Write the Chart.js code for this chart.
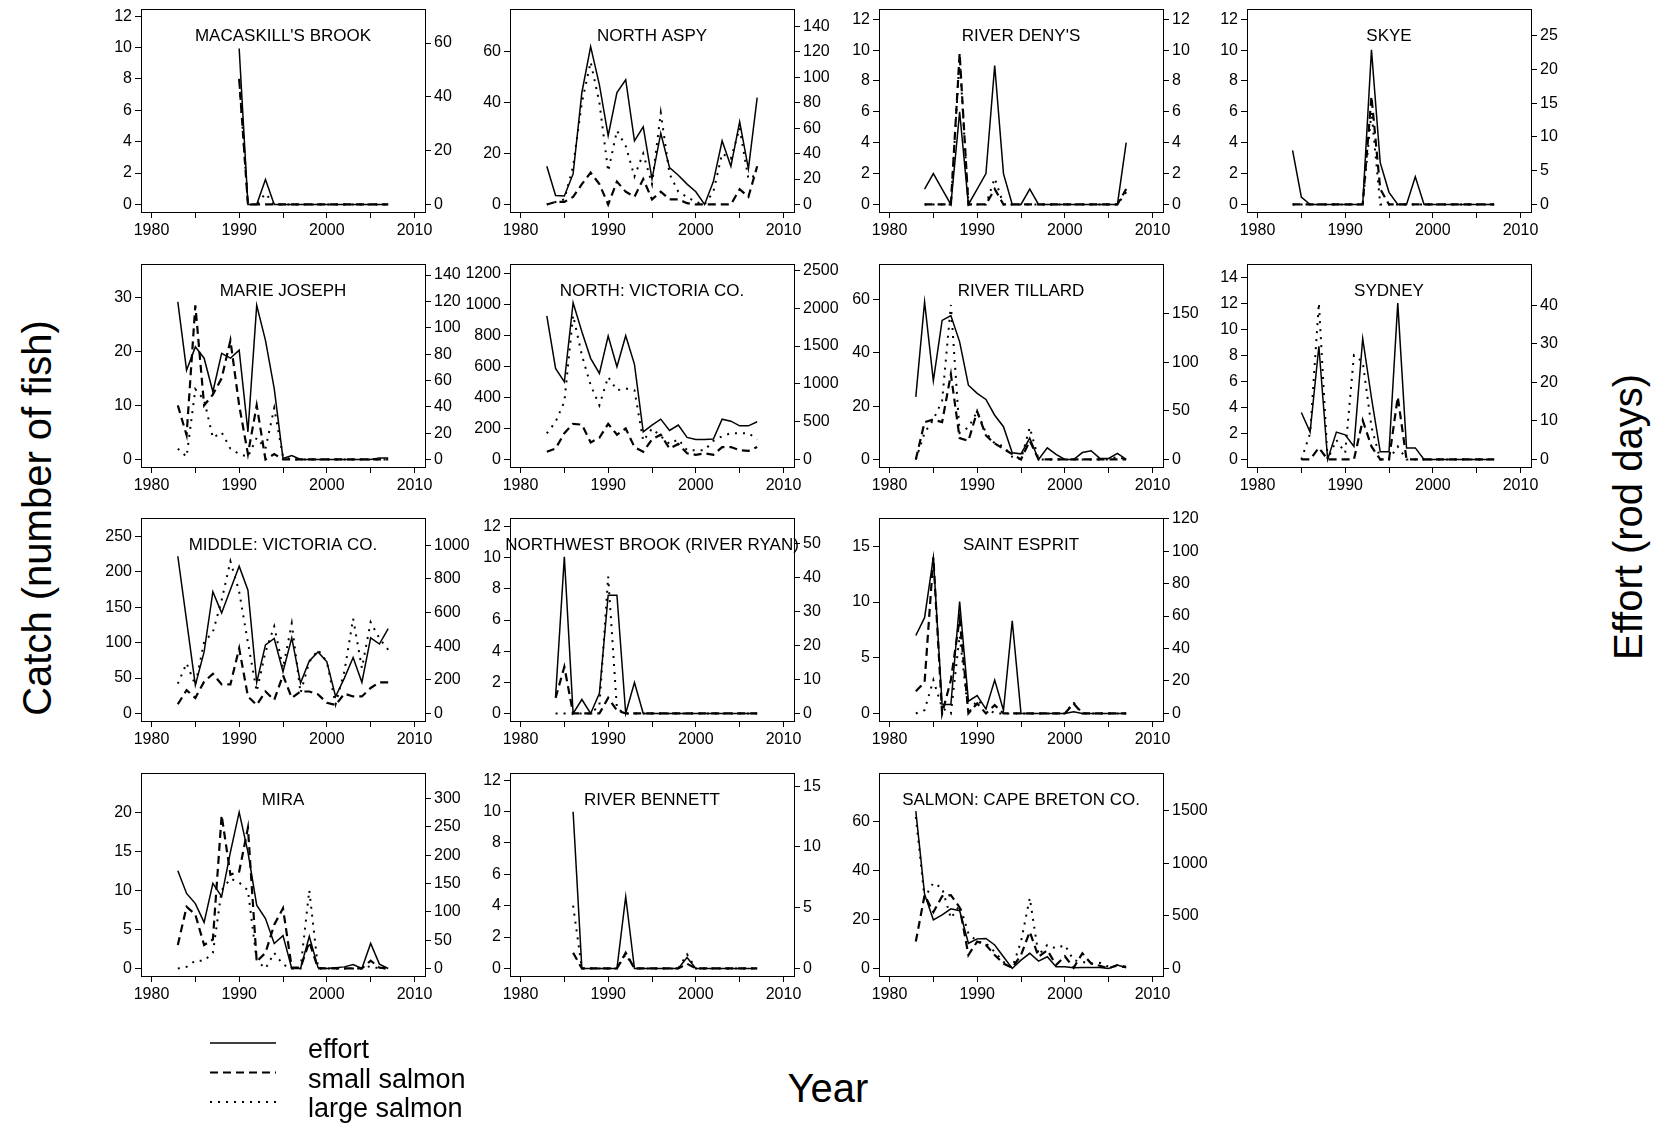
<!DOCTYPE html>
<html>
<head>
<meta charset="utf-8">
<script src="https://cdn.jsdelivr.net/npm/chart.js@4.4.1/dist/chart.umd.min.js"></script>
<style>
  body { margin: 0; background: #fff; }
  #page { position: relative; width: 1663px; height: 1123px; overflow: hidden; font-family: 'Liberation Sans', Arial, sans-serif; }
  .panel { position: absolute; }
  .axisTitle { position: absolute; font-size: 40px; white-space: nowrap; color: #000; transform: translate(-50%, -50%); }
</style>
</head>
<body>
<div id="page">
  <div class="axisTitle" style="left:37px; top:518px; transform: translate(-50%, -50%) rotate(-90deg);">Catch (number of fish)</div>
  <div class="axisTitle" style="left:1628px; top:517px; transform: translate(-50%, -50%) rotate(-90deg);">Effort (rod days)</div>
  <div class="axisTitle" style="left:828px; top:1088px;">Year</div>
  <canvas id="legend" width="320" height="93" style="position:absolute; left:200px; top:1030px;"></canvas>
</div>
<script>
// effort is in rod days (right axis), small / large salmon in number of fish (left axis)
const macaskillEffort = [58, 0, 0, 9.3, 0, 0, 0, 0, 0, 0, 0, 0, 0, 0, 0, 0, 0, 0];
const macaskillSmall  = [8, 0, 0, 0, 0, 0, 0, 0, 0, 0, 0, 0, 0, 0, 0, 0, 0, 0];
const macaskillLarge  = [8, 0, 0, 0.7, 0, 0, 0, 0, 0, 0, 0, 0, 0, 0, 0, 0, 0, 0];

const aspyEffort = [30, 7, 6.6, 24, 88, 124, 94, 54, 88, 98, 50, 61, 20, 56, 29, 23, 16, 10, 0, 18, 50, 30, 65, 28, 84];
const aspySmall  = [0, 1, 1, 3, 8, 12.5, 8, 0, 9, 5, 3, 10, 2, 5, 2, 2, 0.5, 0, 0, 0, 0, 0, 6, 3, 15];
const aspyLarge  = [0, 1, 2, 15, 40, 56, 40, 13, 29, 23, 11, 20, 8, 36, 12, 5, 3, 1, 0, 5, 20, 18, 30, 10, 12];

const denysEffort = [1, 2, 1, 0, 6, 0, 1, 2, 9, 2, 0, 0, 1, 0, 0, 0, 0, 0, 0, 0, 0, 0, 0, 4];
const denysSmall  = [0, 0, 0, 0, 9.8, 0, 0, 0, 1, 0, 0, 0, 0, 0, 0, 0, 0, 0, 0, 0, 0, 0, 0, 1];
const denysLarge  = [0, 0, 0, 0, 9.5, 0, 0, 0, 1.7, 0, 0, 0, 0, 0, 0, 0, 0, 0, 0, 0, 0, 0, 0, 0.8];

const skyeEffort = [8, 1.1, 0, 0, 0, 0, 0, 0, 0, 22.9, 6.2, 1.8, 0, 0, 4.1, 0, 0, 0, 0, 0, 0, 0, 0, 0];
const skyeSmall  = [0, 0, 0, 0, 0, 0, 0, 0, 0, 7, 1, 0, 0, 0, 0, 0, 0, 0, 0, 0, 0, 0, 0, 0];
const skyeLarge  = [0, 0, 0, 0, 0, 0, 0, 0, 0, 6, 0, 0, 0, 0, 0, 0, 0, 0, 0, 0, 0, 0, 0, 0];

const marieEffort = [119.6, 67.8, 85.5, 76.9, 51.4, 80.6, 76.9, 83, 21, 117, 90.4, 53.8, 0.8, 2.9, 0, 0, 0, 0, 0, 0, 0, 0, 0, 1.2, 1.2];
const marieSmall  = [10, 4.5, 28.5, 10, 12, 15, 22, 10, 1, 10, 0, 1, 0, 0, 0, 0, 0, 0, 0, 0, 0, 0, 0, 0, 0];
const marieLarge  = [2, 0.5, 13, 11, 4, 5, 2, 1, 0.5, 4, 2, 9.5, 0.5, 0, 0, 0, 0, 0, 0, 0, 0, 0, 0, 0, 0];

const northVicEffort = [1900, 1203, 1027, 2073, 1689, 1337, 1138, 1632, 1226, 1636, 1257, 365, 455, 533, 383, 455, 291, 264, 264, 269, 533, 506, 445, 445, 498];
const northVicSmall  = [50, 70, 170, 230, 225, 110, 140, 230, 160, 200, 80, 50, 130, 160, 70, 100, 40, 30, 40, 30, 80, 80, 60, 55, 80];
const northVicLarge  = [168, 243, 372, 930, 673, 480, 350, 533, 447, 458, 447, 120, 200, 150, 100, 130, 60, 60, 60, 120, 150, 170, 170, 170, 130];

const tillardEffort = [64.4, 162, 80.8, 143, 148, 121, 76.4, 68, 61.7, 45.5, 33.7, 6.9, 5.8, 22, 0, 12, 5.2, 0, 0, 7.1, 9, 1.1, 1.1, 6.3, 0];
const tillardSmall  = [0, 14, 15, 14, 32, 8, 7, 18, 9, 6, 4, 2, 0, 7, 0, 0, 0, 0, 0, 0, 0, 0, 0, 0, 0];
const tillardLarge  = [0, 10, 15, 22, 58, 10, 12, 18, 10, 6, 5, 1, 0, 12, 0, 0, 0, 0, 0, 0, 0, 0, 0, 1, 0];

const sydneyEffort = [12.2, 7.1, 29.4, 0, 7.1, 6.4, 3.4, 31.4, 16, 2, 2, 40.6, 3, 3, 0, 0, 0, 0, 0, 0, 0, 0, 0];
const sydneySmall  = [0, 0, 0.9, 0, 0, 0, 0, 3, 1, 0, 0, 4.8, 0, 0, 0, 0, 0, 0, 0, 0, 0, 0, 0];
const sydneyLarge  = [0, 2, 12, 0, 1.5, 0.5, 8, 7.5, 2.5, 0, 0, 1, 0, 0, 0, 0, 0, 0, 0, 0, 0, 0, 0];

const middleVicEffort = [935, 552, 168, 366, 724, 598, 737, 876, 733, 185, 408, 446, 248, 450, 181, 312, 366, 307, 101, 210, 333, 185, 450, 413, 505];
const middleVicSmall  = [13, 33, 22, 45, 56, 41, 41, 92, 24, 12, 31, 19, 54, 22, 31, 31, 27, 15, 12, 28, 24, 24, 36, 44, 44];
const middleVicLarge  = [42, 71, 40, 101, 115, 160, 215, 172, 100, 31, 87, 123, 64, 127, 29, 73, 90, 73, 13, 59, 134, 64, 129, 106, 90];

const nwBrookEffort = [5, 46, 0, 4.1, 0, 5.9, 34.7, 34.7, 0, 9.1, 0, 0, 0, 0, 0, 0, 0, 0, 0, 0, 0, 0, 0, 0];
const nwBrookSmall  = [1, 3, 0, 0, 0, 0, 1, 0.2, 0, 0, 0, 0, 0, 0, 0, 0, 0, 0, 0, 0, 0, 0, 0, 0];
const nwBrookLarge  = [0, 0, 0, 0, 0, 0.5, 8.8, 0.3, 0, 0, 0, 0, 0, 0, 0, 0, 0, 0, 0, 0, 0, 0, 0, 0];

const espritEffort = [48, 59, 96, 5.5, 5.5, 69, 7.6, 11, 2.7, 20.6, 2, 57, 0, 0, 0, 0, 0, 0, 1, 0, 0, 0, 0, 0, 0];
const espritSmall  = [2, 2.8, 14, 0, 3, 8.5, 0, 0.9, 0, 0.75, 0, 0, 0, 0, 0, 0, 0, 0, 0.9, 0, 0, 0, 0, 0, 0];
const espritLarge  = [0, 0.3, 3, 0.5, 0, 7, 0, 1.2, 0.5, 0, 0, 0, 0, 0, 0, 0, 0, 0, 1, 0, 0, 0, 0, 0, 0];

const miraEffort = [172.5, 132.5, 114.5, 81.4, 150.4, 127, 205.6, 276, 205.6, 111.8, 88.3, 44.2, 58, 0, 0, 56.6, 1.4, 0, 1.4, 2.8, 6.9, 0, 44.2, 7.6, 0];
const miraSmall  = [3, 7.9, 6.9, 3, 3.7, 19.6, 12, 12.4, 18, 0.9, 2, 5.6, 7.7, 0.1, 0.1, 3.4, 0, 0, 0, 0, 0, 0, 1, 0.1, 0];
const miraLarge  = [0, 0.2, 1, 1, 2, 10, 11.5, 11, 10, 1, 0, 2, 0.5, 0, 0, 10, 0, 0, 0, 0, 0, 0, 0.3, 0, 0];

const bennettEffort = [12.9, 0, 0, 0, 0, 0, 5.9, 0, 0, 0, 0, 0, 0, 0.9, 0, 0, 0, 0, 0, 0, 0, 0];
const bennettSmall  = [1, 0, 0, 0, 0, 0, 1, 0, 0, 0, 0, 0, 0, 0.3, 0, 0, 0, 0, 0, 0, 0, 0];
const bennettLarge  = [4, 0, 0, 0, 0, 0, 0.9, 0, 0, 0, 0, 0, 0, 0.9, 0, 0, 0, 0, 0, 0, 0, 0];

const capeBretonEffort = [1494, 705, 462, 508, 566, 548, 239, 281, 285, 223, 111, 0, 79, 144, 70, 111, 16, 16, 7, 9, 9, 9, 0, 32, 7];
const capeBretonSmall  = [11, 30, 23, 29.5, 30, 25, 5.5, 11, 9.6, 5.5, 2, 0.3, 5.5, 15, 4.8, 7.5, 1.4, 5, 0.3, 6.2, 2, 1.1, 0, 1.4, 0.7];
const capeBretonLarge  = [62, 28.8, 35, 32.9, 20.5, 25.8, 14.4, 11, 10.3, 6.8, 2.7, 0.3, 11, 28.8, 5.5, 9.6, 8.2, 9.6, 3.4, 2.7, 2, 2.3, 0.7, 1, 0.4];

const yearTicks = [1980, 1985, 1990, 1995, 2000, 2005, 2010];
const range = (max, step) => { const t = []; for (let v = 0; v <= max + 1e-9; v += step) t.push(v); return t; };

const panels = [
  { title: "MACASKILL'S BROOK", start: 1990, effort: macaskillEffort, small: macaskillSmall, large: macaskillLarge, col: 0, row: 0, leftMax: 12, rightMax: 70, leftTicks: range(12, 2), rightTicks: range(60, 20) },
  { title: "NORTH ASPY", start: 1983, effort: aspyEffort, small: aspySmall, large: aspyLarge, col: 1, row: 0, leftMax: 74, rightMax: 148, leftTicks: range(60, 20), rightTicks: range(140, 20) },
  { title: "RIVER DENY'S", start: 1984, effort: denysEffort, small: denysSmall, large: denysLarge, col: 2, row: 0, leftMax: 12.2, rightMax: 12.2, leftTicks: range(12, 2), rightTicks: range(12, 2) },
  { title: "SKYE", start: 1984, effort: skyeEffort, small: skyeSmall, large: skyeLarge, col: 3, row: 0, leftMax: 12.2, rightMax: 27.9, leftTicks: range(12, 2), rightTicks: range(25, 5) },
  { title: "MARIE JOSEPH", start: 1983, effort: marieEffort, small: marieSmall, large: marieLarge, col: 0, row: 1, leftMax: 34.8, rightMax: 143, leftTicks: range(30, 10), rightTicks: range(140, 20) },
  { title: "NORTH: VICTORIA CO.", start: 1983, effort: northVicEffort, small: northVicSmall, large: northVicLarge, col: 1, row: 1, leftMax: 1216, rightMax: 2490, leftTicks: range(1200, 200), rightTicks: range(2500, 500) },
  { title: "RIVER TILLARD", start: 1983, effort: tillardEffort, small: tillardSmall, large: tillardLarge, col: 2, row: 1, leftMax: 70.7, rightMax: 193.7, leftTicks: range(60, 20), rightTicks: range(150, 50) },
  { title: "SYDNEY", start: 1985, effort: sydneyEffort, small: sydneySmall, large: sydneyLarge, col: 3, row: 1, leftMax: 14.46, rightMax: 48.9, leftTicks: range(14, 2), rightTicks: range(40, 10) },
  { title: "MIDDLE: VICTORIA CO.", start: 1983, effort: middleVicEffort, small: middleVicSmall, large: middleVicLarge, col: 0, row: 2, leftMax: 266, rightMax: 1120, leftTicks: range(250, 50), rightTicks: range(1000, 200) },
  { title: "NORTHWEST BROOK (RIVER RYAN)", start: 1984, effort: nwBrookEffort, small: nwBrookSmall, large: nwBrookLarge, col: 1, row: 2, leftMax: 12.1, rightMax: 55.3, leftTicks: range(12, 2), rightTicks: range(50, 10) },
  { title: "SAINT ESPRIT", start: 1983, effort: espritEffort, small: espritSmall, large: espritLarge, col: 2, row: 2, leftMax: 16.9, rightMax: 116, leftTicks: range(15, 5), rightTicks: range(120, 20) },
  { title: "MIRA", start: 1983, effort: miraEffort, small: miraSmall, large: miraLarge, col: 0, row: 3, leftMax: 24.1, rightMax: 332.6, leftTicks: range(20, 5), rightTicks: range(300, 50) },
  { title: "RIVER BENNETT", start: 1986, effort: bennettEffort, small: bennettSmall, large: bennettLarge, col: 1, row: 3, leftMax: 12, rightMax: 15.5, leftTicks: range(12, 2), rightTicks: range(15, 5) },
  { title: "SALMON: CAPE BRETON CO.", start: 1983, effort: capeBretonEffort, small: capeBretonSmall, large: capeBretonLarge, col: 2, row: 3, leftMax: 77, rightMax: 1788, leftTicks: range(60, 20), rightTicks: range(1500, 500) }
];

// frame geometry of the plot boxes
const colLeft = [141, 510, 879, 1247];
const rowTop = [8, 263, 517, 772];
const frameW = 284, frameH = 204;
const padL = 70, padR = 70, padT = 12, padB = 34;

const FONT = "'Liberation Sans', Arial, sans-serif";
const tickFont = { family: FONT, size: 16 };

const framePlugin = {
  id: 'frame',
  afterDraw(chart) {
    const a = chart.chartArea, c = chart.ctx;
    c.save();
    c.strokeStyle = '#000';
    c.lineWidth = 1;
    c.setLineDash([]);
    c.strokeRect(Math.round(a.left) + 0.5, Math.round(a.top) + 0.5, Math.round(a.right - a.left), Math.round(a.bottom - a.top));
    c.fillStyle = '#000';
    c.font = "17px " + FONT;
    c.textAlign = 'center';
    c.textBaseline = 'middle';
    c.fillText(chart.options.plugins.frame.title, (a.left + a.right) / 2, a.top + 28);
    c.restore();
  }
};

const toPoints = (start, values) => values.map((v, i) => ({ x: start + i, y: v }));

const makeAxis = (ticks, min, max, pos, fitWidth) => ({
  type: 'linear',
  position: pos,
  min: min,
  max: max,
  afterBuildTicks: axis => { axis.ticks = ticks.map(v => ({ value: v })); },
  afterFit: scale => { scale.width = fitWidth; },
  ticks: { autoSkip: false, font: tickFont, color: '#000', padding: 3, callback: v => String(v) },
  grid: { drawOnChartArea: false, drawTicks: true, tickLength: 6, color: '#000', lineWidth: 1 },
  border: { display: false }
});

const drawPanel = (p) => {
  const page = document.getElementById('page');
  const W = frameW + padL + padR, H = frameH + padT + padB;
  const wrap = document.createElement('div');
  wrap.className = 'panel';
  wrap.style.left = (colLeft[p.col] - padL) + 'px';
  wrap.style.top = (rowTop[p.row] - padT) + 'px';
  const canvas = document.createElement('canvas');
  canvas.width = W;
  canvas.height = H;
  wrap.appendChild(canvas);
  page.appendChild(wrap);

  new Chart(canvas.getContext('2d'), {
    type: 'line',
    data: {
      datasets: [
        { label: 'effort', data: toPoints(p.start, p.effort), yAxisID: 'y2', borderColor: '#000', borderWidth: 1.5, pointRadius: 0, tension: 0 },
        { label: 'small salmon', data: toPoints(p.start, p.small), yAxisID: 'y', borderColor: '#000', borderWidth: 2.2, borderDash: [8, 5], pointRadius: 0, tension: 0 },
        { label: 'large salmon', data: toPoints(p.start, p.large), yAxisID: 'y', borderColor: '#000', borderWidth: 2, borderDash: [2, 6], pointRadius: 0, tension: 0 }
      ]
    },
    options: {
      responsive: false,
      animation: false,
      events: [],
      layout: { padding: { top: padT, left: 0, right: 0, bottom: 0 } },
      plugins: { legend: { display: false }, tooltip: { enabled: false }, frame: { title: p.title } },
      scales: {
        x: {
          type: 'linear',
          min: 1978.8,
          max: 2011.2,
          afterBuildTicks: axis => { axis.ticks = yearTicks.map(v => ({ value: v })); },
          afterFit: scale => { scale.height = padB; },
          ticks: { autoSkip: false, maxRotation: 0, font: tickFont, color: '#000', padding: 3,
                   callback: v => (v % 10 === 0 ? String(v) : '') },
          grid: { drawOnChartArea: false, drawTicks: true, tickLength: 6, color: '#000', lineWidth: 1 },
          border: { display: false }
        },
        y: makeAxis(p.leftTicks, -0.04 * p.leftMax, 1.04 * p.leftMax, 'left', padL),
        y2: makeAxis(p.rightTicks, -0.04 * p.rightMax, 1.04 * p.rightMax, 'right', padR)
      }
    },
    plugins: [framePlugin]
  });
};

panels.forEach(drawPanel);

// legend
const lg = document.getElementById('legend').getContext('2d');
const legendItems = [
  { label: 'effort', dash: [], width: 1.5 },
  { label: 'small salmon', dash: [8, 5], width: 2.2 },
  { label: 'large salmon', dash: [2, 6], width: 2 }
];
legendItems.forEach((item, i) => {
  const y = 13 + i * 29.5;
  lg.strokeStyle = '#000';
  lg.lineWidth = item.width;
  lg.setLineDash(item.dash);
  lg.beginPath();
  lg.moveTo(10, y);
  lg.lineTo(76, y);
  lg.stroke();
  lg.fillStyle = '#000';
  lg.font = "27px " + FONT;
  lg.textBaseline = 'middle';
  lg.fillText(item.label, 108, y + 8);
});
</script>
</body>
</html>
